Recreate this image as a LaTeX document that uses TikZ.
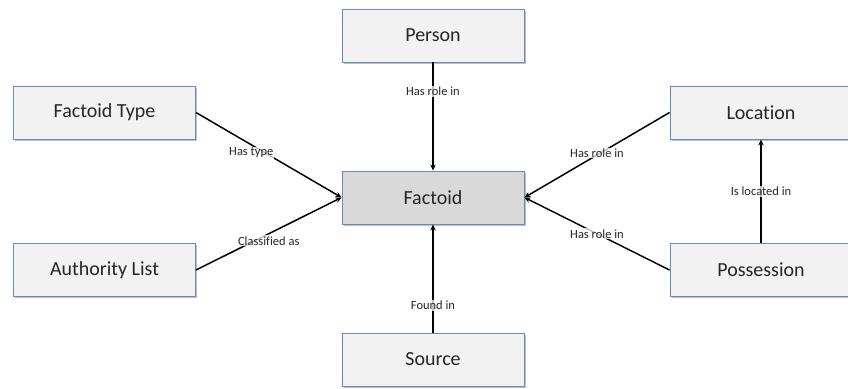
\documentclass[tikz,border=0pt]{standalone}
\usepackage{fontspec}
\setmainfont[Ligatures=NoCommon]{Carlito}
\usetikzlibrary{arrows.meta,shadows}
\definecolor{boxborder}{RGB}{100,140,195}
\definecolor{boxfill}{RGB}{242,242,242}
\definecolor{keyfill}{RGB}{217,217,217}
\definecolor{txt}{RGB}{38,38,38}
\begin{document}
\begin{tikzpicture}[x=1pt,y=-1pt,
  entity/.style={draw=boxborder, line width=0.9pt, fill=boxfill, minimum width=182pt, minimum height=53pt,
     inner sep=0pt, font=\fontsize{20}{22}\selectfont, text=txt,
     drop shadow={shadow xshift=1.5pt, shadow yshift=-1.8pt, fill=black, opacity=0.25}},
  keyentity/.style={entity, fill=keyfill},
  rel/.style={line width=1.5pt, black, -{Stealth[length=6pt,width=5.5pt]}},
  lbl/.style={font=\fontsize{12.5}{14}\selectfont, text=txt, fill=white, fill opacity=0.75, text opacity=1, inner sep=1pt}
]
\useasboundingbox (0,0) rectangle (848,388);
\fill[white] (0,0) rectangle (848,388);
\node[entity] (person) at (433,35.5) {Person};
\node[entity] (ftype) at (104.5,112.5) {Factoid Type};
\node[entity] (auth) at (104.5,270) {Authority List};
\node[keyentity] (factoid) at (433,197.5) {Factoid};
\node[entity] (source) at (433,359.5) {Source};
\node[entity] (loc) at (761,112.5) {Location};
\node[entity] (poss) at (761,270) {Possession};

\draw[rel] (person.south) -- node[lbl, pos=0.27] {Has role in} (factoid.north);
\draw[rel] (source.north) -- node[lbl, pos=0.25] {Found in} (factoid.south);
\draw[rel] (ftype.east) -- node[lbl, pos=0.38, yshift=-8pt] {Has type} (factoid.west);
\draw[rel] (auth.east) -- node[lbl, pos=0.5, yshift=-7pt] {Classified as} (factoid.west);
\draw[rel] (loc.west) -- node[lbl, pos=0.5, yshift=2pt] {Has role in} (factoid.east);
\draw[rel] (poss.west) -- node[lbl, pos=0.5] {Has role in} (factoid.east);
\draw[rel] (poss.north) -- node[lbl, pos=0.5] {Is located in} (loc.south);
\end{tikzpicture}
\end{document}
